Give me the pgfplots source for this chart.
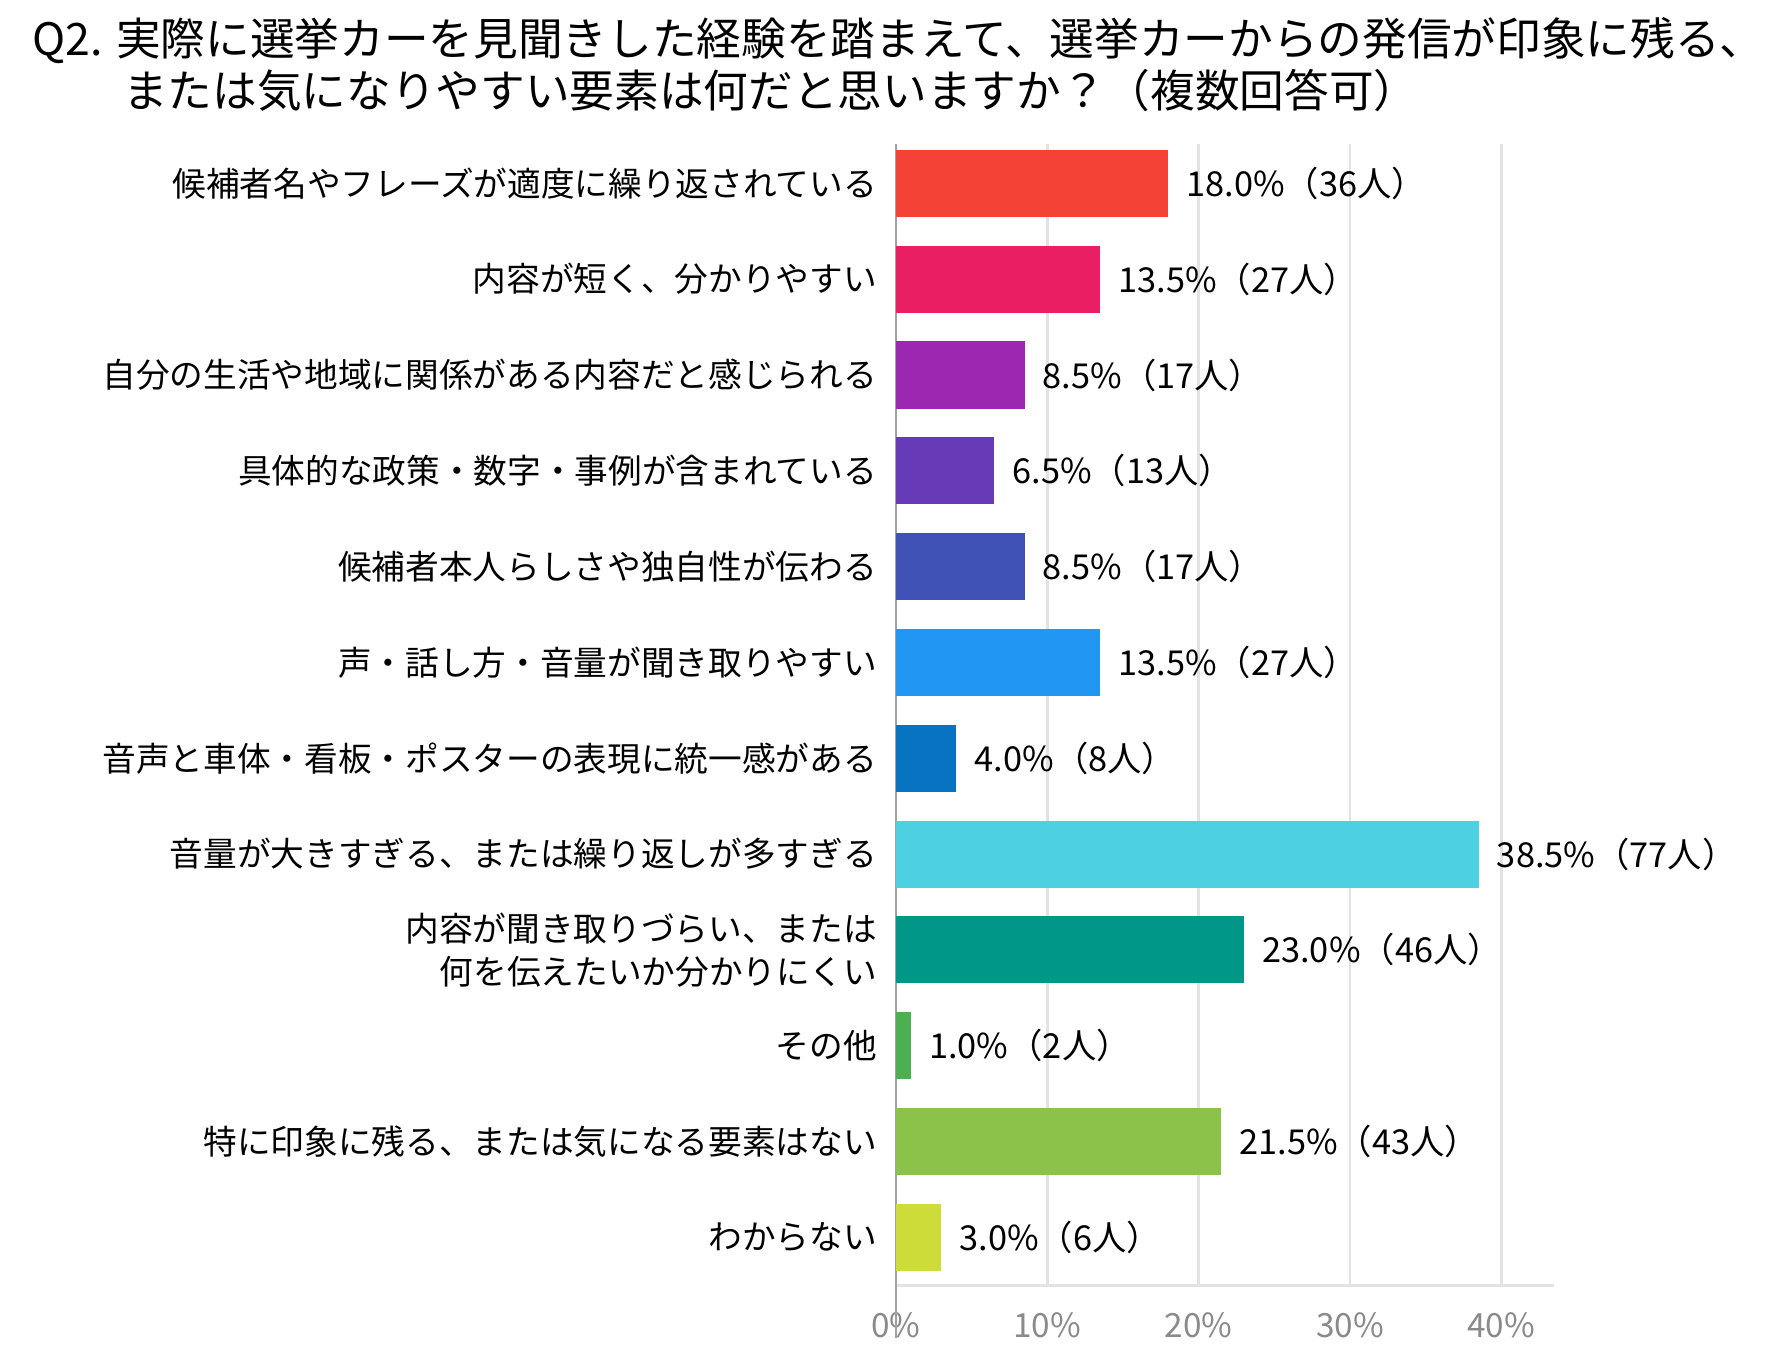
\documentclass[border=0pt]{standalone}
\usepackage{fontspec}
\setmainfont{Noto Sans CJK JP}
\usepackage{pgfplots}
\pgfplotsset{compat=1.18}
\definecolor{c1}{HTML}{F44336}
\definecolor{c2}{HTML}{E91E63}
\definecolor{c3}{HTML}{9C27B0}
\definecolor{c4}{HTML}{673AB7}
\definecolor{c5}{HTML}{3F51B5}
\definecolor{c6}{HTML}{2196F3}
\definecolor{c7}{HTML}{0873C0}
\definecolor{c8}{HTML}{4DD0E1}
\definecolor{c9}{HTML}{009688}
\definecolor{c10}{HTML}{4CAF50}
\definecolor{c11}{HTML}{8BC34A}
\definecolor{c12}{HTML}{CDDC39}
\definecolor{gridc}{HTML}{E3E3E3}
\definecolor{tickc}{HTML}{8A8A8A}
\begin{document}
\begin{tikzpicture}
\useasboundingbox (0pt,0pt) rectangle (530pt,-405pt);
\node[anchor=west,inner sep=0pt,font=\fontsize{13.4}{16}\selectfont] at (9.5pt,-12.2pt) {Q2. 実際に選挙カーを見聞きした経験を踏まえて、選挙カーからの発信が印象に残る、};
\node[anchor=west,inner sep=0pt,font=\fontsize{13.4}{16}\selectfont] at (36.7pt,-27.2pt) {または気になりやすい要素は何だと思いますか？（複数回答可）};
\begin{axis}[
  at={(268.7pt,-385.5pt)}, anchor=south west,
  scale only axis, width=197.5pt, height=342.3pt,
  xbar, bar width=0.7,
  xmin=0, xmax=43.5,
  ymin=-0.41, ymax=11.5, y dir=reverse,
  axis x line*=bottom, axis y line*=left,
  x axis line style={draw=gridc, line width=0.8pt},
  y axis line style={draw=tickc!80, line width=0.8pt},
  xmajorgrids, grid style={draw=gridc, line width=0.8pt},
  major tick length=0pt,
  xtick={0,10,20,30,40},
  xticklabel={\pgfmathprintnumber{\tick}\%},
  /pgf/number format/assume math mode=true,
  xticklabel style={text=tickc, font=\fontsize{10}{12}\selectfont, yshift=-4.7pt},
  ytick={0,...,11},
  yticklabels={
    {候補者名やフレーズが適度に繰り返されている},
    {内容が短く、分かりやすい},
    {自分の生活や地域に関係がある内容だと感じられる},
    {具体的な政策・数字・事例が含まれている},
    {候補者本人らしさや独自性が伝わる},
    {声・話し方・音量が聞き取りやすい},
    {音声と車体・看板・ポスターの表現に統一感がある},
    {音量が大きすぎる、または繰り返しが多すぎる},
    {内容が聞き取りづらい、または\\何を伝えたいか分かりにくい},
    {その他},
    {特に印象に残る、または気になる要素はない},
    {わからない}},
  yticklabel style={align=right, inner sep=0pt, xshift=-5.5pt, font=\fontsize{10.1}{13}\selectfont},
  point meta=explicit symbolic,
  nodes near coords,
  every node near coord/.append style={anchor=west, inner sep=0pt, xshift=5.3pt, text=black, font=\fontsize{10.3}{12}\selectfont},
  clip=false,
]
\addplot[fill=c1, draw=none, bar shift=0pt] coordinates {(18.0,0) [18.0\%（36人）]};
\addplot[fill=c2, draw=none, bar shift=0pt] coordinates {(13.5,1) [13.5\%（27人）]};
\addplot[fill=c3, draw=none, bar shift=0pt] coordinates {(8.5,2) [8.5\%（17人）]};
\addplot[fill=c4, draw=none, bar shift=0pt] coordinates {(6.5,3) [6.5\%（13人）]};
\addplot[fill=c5, draw=none, bar shift=0pt] coordinates {(8.5,4) [8.5\%（17人）]};
\addplot[fill=c6, draw=none, bar shift=0pt] coordinates {(13.5,5) [13.5\%（27人）]};
\addplot[fill=c7, draw=none, bar shift=0pt] coordinates {(4.0,6) [4.0\%（8人）]};
\addplot[fill=c8, draw=none, bar shift=0pt] coordinates {(38.5,7) [38.5\%（77人）]};
\addplot[fill=c9, draw=none, bar shift=0pt] coordinates {(23.0,8) [23.0\%（46人）]};
\addplot[fill=c10, draw=none, bar shift=0pt] coordinates {(1.0,9) [1.0\%（2人）]};
\addplot[fill=c11, draw=none, bar shift=0pt] coordinates {(21.5,10) [21.5\%（43人）]};
\addplot[fill=c12, draw=none, bar shift=0pt] coordinates {(3.0,11) [3.0\%（6人）]};
\draw[draw=tickc!80, line width=0.8pt] (axis cs:0,11.5) -- ++(0,-4pt);
\end{axis}
\end{tikzpicture}
\end{document}
